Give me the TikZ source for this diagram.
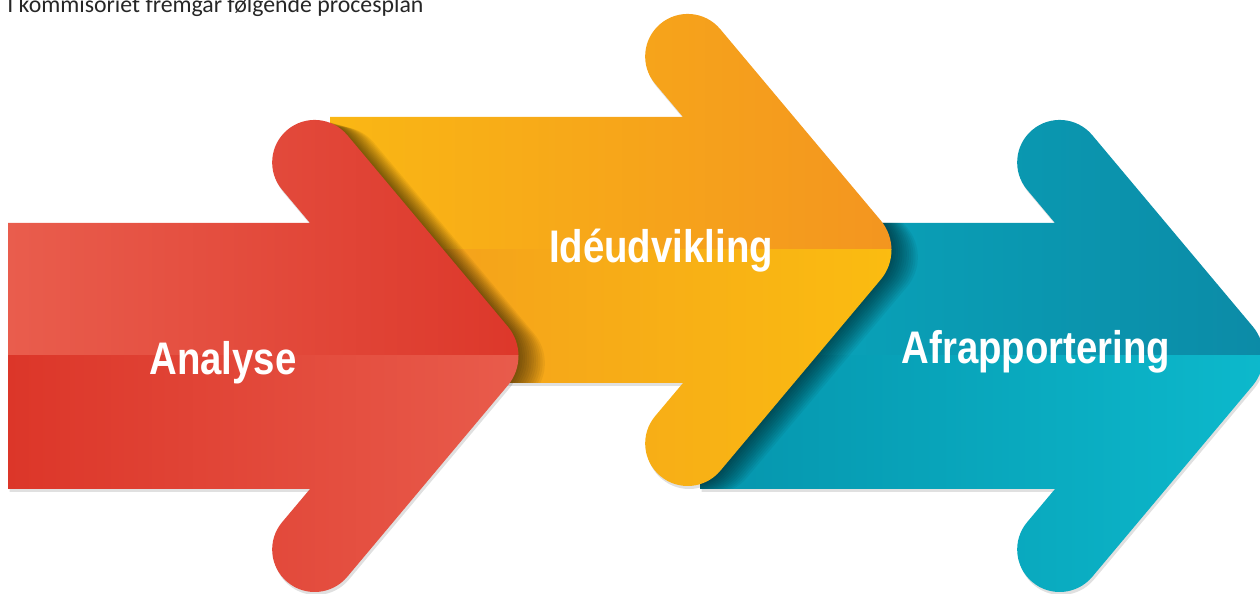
\documentclass[tikz,border=0pt]{standalone}
\usepackage{fontspec}
\newfontfamily\titelfont{Carlito}
\newfontfamily\pilfont[FakeStretch=0.84]{Liberation Sans}
\definecolor{roedA}{HTML}{E95D4D}
\definecolor{roedB}{HTML}{DC3629}
\definecolor{orangeA}{HTML}{FAB714}
\definecolor{orangeB}{HTML}{F39420}
\definecolor{orangeC}{HTML}{F39C1E}
\definecolor{orangeD}{HTML}{FBBD10}
\definecolor{tealA}{HTML}{08A8BD}
\definecolor{tealB}{HTML}{0C8AA6}
\definecolor{tealC}{HTML}{0595AD}
\definecolor{tealD}{HTML}{0DBACD}
\begin{document}
\begin{tikzpicture}[x=0.02cm, y=0.02cm, line join=round, line cap=round,
	tekst/.style={text=white, font=\pilfont\bfseries\fontsize{26}{30}\selectfont, anchor=base}]
	\def\pil#1{(#1,133) -- (0,133) -- (-27.9,166.24) arc[start angle=220, end angle=40, radius=42.5] -- (197.69,29.57) arc[start angle=40, end angle=-40, radius=46] -- (37.22,-220.82) arc[start angle=-40, end angle=-220, radius=42.5] -- (0,-133) -- (#1,-133) -- cycle}
	\useasboundingbox (0,0) rectangle (1260,594);
	\clip (0,0) rectangle (1260,594);
	% svag skygge under pilene
	\foreach \p/\q/\l in {1055/238/-355, 683/344/-353, 310/238/-302}
		\fill[black, opacity=0.12, shift={(\p+1.5,\q-3)}] \pil{\l};
	% afrapportering
	\begin{scope}[shift={(1055,238)}]
		\clip \pil{-355};
		\shade[left color=tealA, right color=tealB] (-355,0) rectangle (230,240);
		\shade[left color=tealC, right color=tealD] (-355,-240) rectangle (230,0);
	\end{scope}
	\begin{scope}
		\clip[shift={(1055,238)}] \pil{-355};
		\foreach \i in {1,...,12}
			\fill[black, opacity=0.05, shift={(683+2.2*\i,344-0.6*\i)}] \pil{-353};
	\end{scope}
	% idéudvikling
	\begin{scope}[shift={(683,344)}]
		\clip \pil{-353};
		\shade[left color=orangeA, right color=orangeB] (-353,0) rectangle (230,240);
		\shade[left color=orangeC, right color=orangeD] (-353,-240) rectangle (230,0);
	\end{scope}
	\begin{scope}
		\clip[shift={(683,344)}] \pil{-353};
		\foreach \i in {1,...,12}
			\fill[black, opacity=0.05, shift={(310+2.2*\i,238-0.6*\i)}] \pil{-302};
	\end{scope}
	% analyse
	\begin{scope}[shift={(310,238)}]
		\clip \pil{-302};
		\shade[left color=roedA, right color=roedB] (-302,0) rectangle (230,240);
		\shade[left color=roedB, right color=roedA] (-302,-240) rectangle (230,0);
	\end{scope}
	\node[tekst] (analyse) at (223,219) {Analyse};
	\node[tekst] (ideudvikling) at (661,331) {Idéudvikling};
	\node[tekst] (afrapportering) at (1036,230) {Afrapportering};
	\node[anchor=base west, inner sep=0, text=black!85, font=\titelfont\fontsize{13.55}{16}\selectfont] (titel) at (7,581) {I kommisoriet fremgår følgende procesplan};
\end{tikzpicture}
\end{document}
